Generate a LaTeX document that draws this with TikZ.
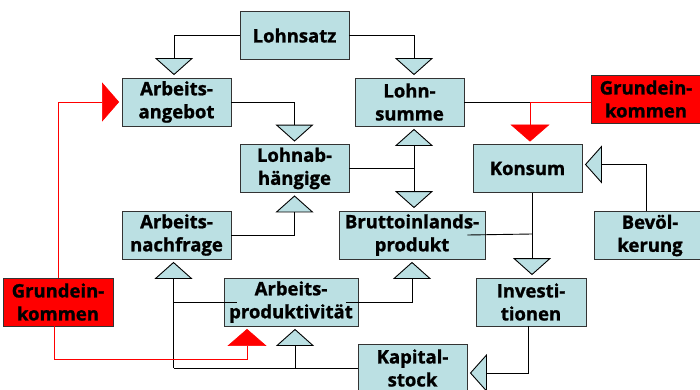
\documentclass[tikz,border=0pt]{standalone}
\usepackage{fontspec}
\setmainfont{Open Sans}[BoldFeatures={FakeBold=1.2}]
\usepackage{tikz}
\usetikzlibrary{arrows.meta}
\definecolor{boxblue}{RGB}{187,224,227}

\begin{document}
\begin{tikzpicture}
[x=1pt,y=1pt,
box/.style={draw=black!80,line width=0.8pt,fill=boxblue,minimum width=109pt,
minimum height=48pt,inner sep=0pt,align=center,
font=\fontsize{18.5}{23}\selectfont\bfseries},
redbox/.style={box,fill=red},
link/.style={line width=0.9pt},
arr/.style={link,shorten >=2.5pt,-{Triangle[width=38pt,length=17pt,fill=boxblue]}},
redline/.style={red,line width=0.6pt},
redarr/.style={redline,shorten >=2.5pt,-{Triangle[width=39pt,length=17pt]}}]
\useasboundingbox (0,0) rectangle (700,389);

\node[box] (lohnsatz) at (294.5,353.5) {Lohnsatz};
\node[box] (angebot) at (176.5,287) {Arbeits-\\angebot};
\node[box] (lohnsumme) at (409.5,287) {Lohn-\\summe};
\node[redbox] (grundR) at (646,290) {Grundein-\\kommen};
\node[box] (konsum) at (527.5,220.5) {Konsum};
\node[box] (lohnab) at (294.5,220.5) {Lohnab-\\hängige};
\node[box] (nachfrage) at (176.5,154) {Arbeits-\\nachfrage};
\node[box,minimum width=146pt] (bip) at (412,154) {Bruttoinlands-\\produkt};
\node[box,minimum width=112pt] (bevoelk) at (650,153.5) {Bevöl-\\kerung};
\node[box,minimum width=134pt] (produkt) at (291,87) {Arbeits-\\produktivität};
\node[box,minimum width=110pt] (invest) at (531,87) {Investi-\\tionen};
\node[redbox,minimum width=110pt] (grundL) at (58,87) {Grundein-\\kommen};
\node[box] (kapital) at (412.5,21) {Kapital-\\stock};

\coordinate (j1) at (414,220.5);
\coordinate (j2) at (530,287);
\coordinate (j3) at (532,155);
\coordinate (j4) at (295,21);
\coordinate (j5) at (173.5,21);
\coordinate (j6) at (173.5,87);
\coordinate (r1) at (247,30);

\draw[arr] (lohnsatz) -| ([xshift=-2.5pt]angebot.north);
\draw[arr] (lohnsatz) -| ([xshift=4.5pt]lohnsumme.north);
\draw[arr] (angebot) -| (lohnab);
\draw[arr] (nachfrage) -| (lohnab);
\draw[link] (lohnab) -- (j1);
\draw[arr] (j1) -- (j1 |- lohnsumme.south);
\draw[arr] (j1) -- (j1 |- bip.north);
\draw[link] (lohnsumme) -- (j2);
\draw[redline] (grundR.west |- j2) -- (j2);
\draw[redarr] (j2) -- (j2 |- konsum.north);
\draw[arr] ([xshift=-4pt]bevoelk.north) |- ([yshift=4pt]konsum.east);
\draw[link] ([xshift=4.5pt]konsum.south) -- (j3);
\draw[link] ([xshift=-18pt]bip.east) -- (j3);
\draw[arr] (j3) -- (j3 |- invest.north);
\draw[arr] ([xshift=-3pt]invest.south) |- ([yshift=-5pt]kapital.east);
\draw[link] (kapital) -- (j5);
\draw[arr] (j5) -- (j5 |- nachfrage.south);
\draw[arr] (j4) -- (j4 |- produkt.south);
\draw[link] ([xshift=13pt]produkt.west) -- (j6);
\draw[arr] ([xshift=-12pt]produkt.east) -| (bip.south);
\draw[redarr] (grundL) |- (angebot);
\draw[redarr] ([xshift=-4pt]grundL.south) |- (r1) -- (r1 |- produkt.south);
\end{tikzpicture}
\end{document}
